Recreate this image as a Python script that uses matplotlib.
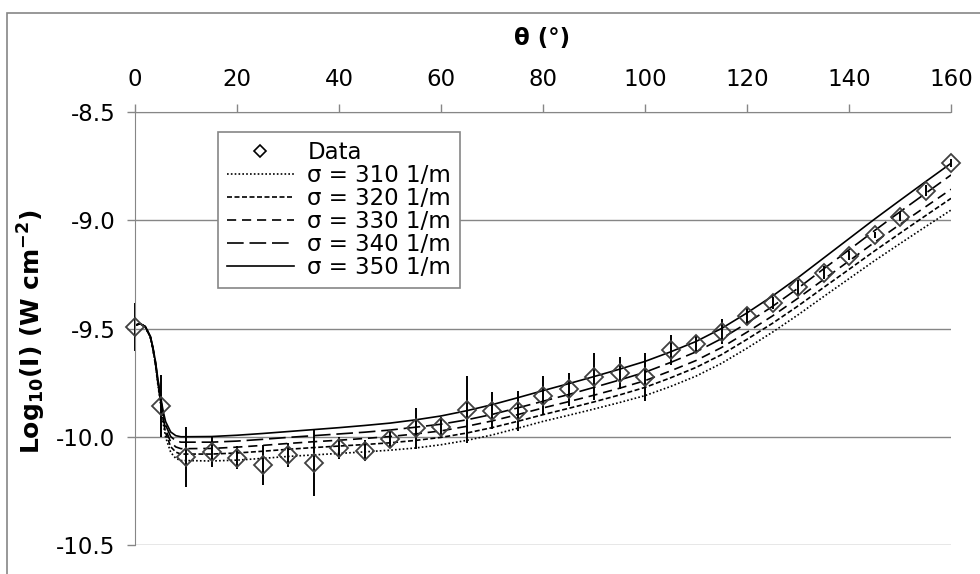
import numpy as np
import matplotlib.pyplot as plt
from matplotlib.lines import Line2D
from matplotlib.patches import Rectangle

plt.rcParams['font.family'] = ['DejaVu Sans']
plt.rcParams['axes.unicode_minus'] = False

# measured data (every 5 degrees)
theta = [0, 5, 10, 15, 20, 25, 30, 35, 40, 45, 50, 55, 60, 65, 70, 75, 80,
         85, 90, 95, 100, 105, 110, 115, 120, 125, 130, 135, 140, 145, 150, 155, 160]
log_i = [-9.492, -9.857, -10.092, -10.069, -10.097, -10.130, -10.084, -10.120,
         -10.053, -10.064, -10.012, -9.961, -9.955, -9.875, -9.879, -9.881,
         -9.810, -9.781, -9.723, -9.707, -9.722, -9.600, -9.572, -9.515,
         -9.444, -9.383, -9.310, -9.242, -9.163, -9.068, -8.984, -8.863, -8.735]
log_err = [0.11, 0.142, 0.139, 0.069, 0.054, 0.094, 0.054, 0.154, 0.05, 0.05,
           0.04, 0.094, 0.046, 0.154, 0.085, 0.092, 0.089, 0.075, 0.109, 0.074,
           0.111, 0.068, 0.04, 0.058, 0.042, 0.027, 0.036, 0.03, 0.02, 0.015,
           0.02, 0.025, 0.02]

# model curves
theta_fit = [0, 1, 2, 3, 3.5, 4, 4.5, 5, 5.5, 6, 7, 8, 9,
             10, 15, 20, 25, 30, 35, 40, 45, 50, 55, 60, 65, 70, 75, 80, 85,
             90, 95, 100, 105, 110, 115, 120, 125, 130, 135, 140, 145, 150, 155, 160]
fit_310 = [-9.485, -9.478, -9.492, -9.541, -9.596, -9.667, -9.763, -9.849, -9.935,
           -10.002, -10.072, -10.100, -10.110,
           -10.110, -10.112, -10.108, -10.100, -10.091, -10.084, -10.077, -10.070,
           -10.062, -10.052, -10.037, -10.017, -9.992, -9.961, -9.929, -9.901,
           -9.872, -9.842, -9.810, -9.768, -9.720, -9.661, -9.591, -9.517, -9.437,
           -9.353, -9.270, -9.187, -9.108, -9.030, -8.953]
fit_320 = [-9.485, -9.478, -9.492, -9.539, -9.593, -9.662, -9.755, -9.838, -9.920,
           -9.982, -10.046, -10.071, -10.080,
           -10.080, -10.080, -10.075, -10.067, -10.058, -10.050, -10.043, -10.036,
           -10.028, -10.017, -10.003, -9.983, -9.958, -9.929, -9.898, -9.869,
           -9.839, -9.807, -9.772, -9.728, -9.680, -9.621, -9.550, -9.476, -9.396,
           -9.311, -9.227, -9.142, -9.060, -8.979, -8.899]
fit_330 = [-9.485, -9.478, -9.491, -9.538, -9.591, -9.658, -9.749, -9.829, -9.908,
           -9.966, -10.025, -10.047, -10.055,
           -10.055, -10.054, -10.048, -10.040, -10.031, -10.023, -10.016, -10.008,
           -9.999, -9.987, -9.973, -9.952, -9.927, -9.898, -9.867, -9.838,
           -9.808, -9.776, -9.741, -9.696, -9.648, -9.588, -9.517, -9.442, -9.360,
           -9.274, -9.188, -9.102, -9.019, -8.938, -8.857]
fit_340 = [-9.485, -9.478, -9.491, -9.536, -9.588, -9.654, -9.741, -9.819, -9.893,
           -9.946, -9.999, -10.019, -10.025,
           -10.025, -10.025, -10.020, -10.012, -10.003, -9.995, -9.987, -9.979,
           -9.969, -9.956, -9.942, -9.922, -9.897, -9.867, -9.836, -9.805,
           -9.772, -9.738, -9.702, -9.657, -9.608, -9.547, -9.475, -9.398, -9.314,
           -9.225, -9.137, -9.048, -8.961, -8.876, -8.791]
fit_350 = [-9.485, -9.478, -9.490, -9.535, -9.585, -9.650, -9.735, -9.810, -9.880,
           -9.930, -9.978, -9.995, -10.000,
           -10.000, -9.999, -9.993, -9.985, -9.976, -9.967, -9.958, -9.948,
           -9.937, -9.922, -9.904, -9.880, -9.852, -9.820, -9.787, -9.755,
           -9.722, -9.688, -9.652, -9.608, -9.560, -9.500, -9.428, -9.350, -9.265,
           -9.175, -9.085, -8.995, -8.908, -8.822, -8.737]

fits = [fit_310, fit_320, fit_330, fit_340, fit_350]
fit_labels = ['σ = 310 1/m', 'σ = 320 1/m', 'σ = 330 1/m', 'σ = 340 1/m', 'σ = 350 1/m']
fit_dashes = [(1, 1.3), (3, 1.5), (5.5, 3.5), (10, 3.5), None]

grey = '#868686'
fs = 16.5

fig = plt.figure(figsize=(9.8, 5.74), dpi=100)
fig.patches.append(Rectangle((7 / 980, -0.1), 1.2, 1 - 13 / 574 + 0.1,
                             transform=fig.transFigure, fill=False,
                             edgecolor=grey, lw=1.2))
ax = fig.add_axes([135 / 980, 1 - 545 / 574, 816 / 980, 433 / 574])

handles = []
for y, lab, d in zip(fits, fit_labels, fit_dashes):
    ln, = ax.plot(theta_fit, y, color='black', lw=1.2, label=lab)
    if d is not None:
        ln.set_dashes(d)
    handles.append(ln)

eb = ax.errorbar(theta, log_i, yerr=log_err, fmt='none', ecolor='black',
                 elinewidth=1.4, capsize=0)
for c in eb.lines[2]:
    c.set_clip_on(False)
ax.plot(theta, log_i, linestyle='none', marker='D', markersize=8.8,
        mfc='none', mec='#404040', mew=1.3, clip_on=False, zorder=3)

ax.set_xlim(0, 160)
ax.set_ylim(-10.5, -8.5)
ax.set_xticks(np.arange(0, 161, 20))
ax.set_yticks(np.arange(-10.5, -8.49, 0.5))
ax.set_yticklabels([f'{v:.1f}' for v in np.arange(-10.5, -8.49, 0.5)])
ax.xaxis.tick_top()
ax.tick_params(axis='both', colors=grey, labelcolor='black', labelsize=fs,
               width=1, length=6)
ax.tick_params(axis='x', pad=9)
ax.tick_params(axis='y', pad=8)
ax.grid(axis='y', color=grey, lw=1)
ax.set_axisbelow(True)
for s in ['right', 'bottom']:
    ax.spines[s].set_visible(False)
for s in ['left', 'top']:
    ax.spines[s].set_color(grey)

fig.text(542 / 980, 1 - 38 / 574, 'θ (°)', fontsize=fs, fontweight='bold',
         ha='center', va='center')
fig.text(32 / 980, 1 - 332 / 574, r'Log$_{\mathbf{10}}$(I) (W cm$^{\mathbf{-2}}$)',
         fontsize=18, fontweight='bold', rotation=90, ha='center', va='center')

data_handle = Line2D([], [], linestyle='none', marker='D', markersize=6.5,
                     mfc='none', mec='black', mew=1.2)
leg = ax.legend([data_handle] + handles, ['Data'] + fit_labels,
                loc='upper left', bbox_to_anchor=((218 - 135) / 816, (545 - 132) / 433),
                borderaxespad=0, fontsize=fs, fancybox=False, framealpha=1,
                edgecolor=grey, handlelength=2.9, handletextpad=0.6,
                labelspacing=0.0, borderpad=0.4)
leg.get_frame().set_linewidth(1.2)

fig.savefig('out.png', dpi=100)
